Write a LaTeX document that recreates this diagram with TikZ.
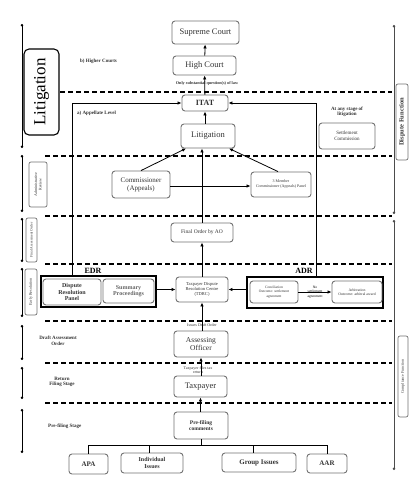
\documentclass[tikz,border=0pt]{standalone}
\usepackage{fontspec}
\setmainfont{Liberation Serif}
\usetikzlibrary{arrows.meta}
\begin{document}
\begin{tikzpicture}[x=1pt,y=-1pt,
  box/.style={draw=black!55,line width=0.9pt,rounded corners=3pt,inner sep=0pt,align=center,text=black!80},
  bigbox/.style={draw=black,line width=1.4pt,inner sep=0pt},
  flow/.style={line width=0.8pt,-{Latex[length=4pt,width=3.5pt]}},
  plainline/.style={line width=0.8pt},
  dashsep/.style={line width=1.1pt,dash pattern=on 5pt off 3pt},
  spanline/.style={line width=0.8pt,{Circle[length=2.4pt]}-{Circle[length=2.4pt]}},
  lbl/.style={inner sep=0pt,align=center,font=\bfseries\fontsize{5}{5.5}\selectfont,text=black!80},
  sidebox/.style={draw=black!55,line width=0.7pt,rounded corners=2pt,inner sep=0pt}]
\useasboundingbox[fill=white] (0,0) rectangle (410,480);

% separators
\foreach \y/\xs in {92/60,156/45,216/45,264/45,321/45,363/45,403/45}
  \draw[dashsep] (\xs,\y) -- (392,\y);

% left span lines
\coordinate (l1a) at (22,24);  \coordinate (l1b) at (22,148);
\coordinate (l2a) at (22,155); \coordinate (l2b) at (22,212);
\coordinate (l3a) at (22,218); \coordinate (l3b) at (22,262);
\coordinate (l4a) at (22,268); \coordinate (l4b) at (22,317);
\coordinate (l5a) at (22,325); \coordinate (l5b) at (22,360);
\coordinate (l6a) at (22,367); \coordinate (l6b) at (22,399);
\coordinate (l7a) at (22,409); \coordinate (l7b) at (22,453);
\foreach \i in {1,...,7} \draw[spanline] (l\i a) -- (l\i b);

% right span lines
\coordinate (r1a) at (394,25);  \coordinate (r1b) at (394,214);
\coordinate (r2a) at (394,220); \coordinate (r2b) at (394,470);
\draw[spanline,black!70] (r1a) -- (r1b);
\draw[spanline,black!70] (r2a) -- (r2b);

% side labels
\node[draw=black,line width=1.1pt,rounded corners=5pt,minimum width=35pt,minimum height=86pt,inner sep=0pt] (litlab) at (41.5,92) {};
\node[rotate=90,font=\fontsize{17}{17}\selectfont] (littxt) at (litlab) {Litigation};
\node[sidebox,minimum width=18pt,minimum height=45pt] (adrev) at (38,184.5) {};
\node[rotate=90,font=\fontsize{4}{4.5}\selectfont,align=center,text=black!80] (adrevt) at (adrev) {Administrative\\Review};
\node[sidebox,minimum width=11pt,minimum height=44pt] (fao) at (31.5,240) {};
\node[rotate=90,font=\fontsize{3.6}{4}\selectfont,text=black!80] (faot) at (fao) {Final Assessment Order};
\node[sidebox,minimum width=12pt,minimum height=46pt] (er) at (31,292) {};
\node[rotate=90,font=\fontsize{4}{4.5}\selectfont,text=black!80] (ert) at (er) {Early Resolution};
\node[sidebox,minimum width=12pt,minimum height=76pt] (dfun) at (402,122) {};
\node[rotate=90,font=\bfseries\fontsize{6.5}{7}\selectfont,text=black!80] (dfunt) at (dfun) {Dispute Function};
\node[sidebox,minimum width=10pt,minimum height=81pt] (cfun) at (403,376.5) {};
\node[rotate=90,font=\fontsize{4}{4.5}\selectfont,text=black!80] (cfunt) at (cfun) {Compliance Function};

\node[lbl,anchor=west] (hcl) at (80,61) {b) Higher Courts};
\node[lbl,anchor=west] (apl) at (77,113) {a) Appellate Level};
\node[lbl] (dao) at (58,341) {Draft Assessment\\Order};
\node[lbl] (rfs) at (62,382) {Return\\Filing Stage};
\node[lbl,anchor=west] (pfs) at (48,426) {Pre-filing Stage};

% main nodes
\node[box,minimum width=67pt,minimum height=23pt,font=\fontsize{8.5}{9}\selectfont] (sc) at (205.5,32.5) {Supreme Court};
\node[box,minimum width=63pt,minimum height=19pt,font=\fontsize{8.5}{9}\selectfont] (hc) at (204.5,65.5) {High Court};
\node[box,minimum width=46pt,minimum height=16pt,font=\bfseries\fontsize{8}{9}\selectfont] (itat) at (205,103) {ITAT};
\node[box,minimum width=54pt,minimum height=24pt,font=\fontsize{8.5}{9}\selectfont] (lit) at (208,136) {Litigation};
\node[box,minimum width=56pt,minimum height=26pt,font=\fontsize{5}{6}\selectfont] (settle) at (347,136) {Settlement\\Commission};
\node[lbl] (anys) at (347,112) {At any stage of\\litigation};
\node[lbl,font=\bfseries\fontsize{4.2}{5}\selectfont] (osq) at (207,83) {Only substantial question(s) of law};
\node[box,minimum width=58pt,minimum height=27pt,font=\fontsize{7}{8}\selectfont] (comm) at (141,184.5) {Commissioner\\(Appeals)};
\node[box,minimum width=60pt,minimum height=25pt,font=\fontsize{4}{5}\selectfont] (panel) at (281,184.5) {3 Member\\Commissioner (Appeals) Panel};
\node[box,minimum width=62pt,minimum height=19pt,font=\fontsize{5.5}{6}\selectfont] (final) at (202,232.5) {Final Order by AO};

\node[bigbox,minimum width=115pt,minimum height=31pt] (edr) at (98.5,291.5) {};
\node[font=\bfseries\fontsize{8}{8}\selectfont,inner sep=0pt] (edrl) at (93,270.5) {EDR};
\node[box,minimum width=58pt,minimum height=26pt,font=\bfseries\fontsize{6}{6.5}\selectfont] (drp) at (72,292) {Dispute\\Resolution\\Panel};
\node[box,minimum width=51pt,minimum height=24pt,font=\bfseries\fontsize{6}{6.5}\selectfont,text=black!60] (summ) at (128.5,291) {Summary\\Proceedings};
\node[box,minimum width=52pt,minimum height=25pt,font=\fontsize{4.5}{5.2}\selectfont] (tdrc) at (202,289.5) {Taxpayer Dispute\\Resolution Centre\\(TDRC)};
\node[bigbox,minimum width=136pt,minimum height=31pt] (adr) at (315,292.5) {};
\node[font=\bfseries\fontsize{8}{8}\selectfont,inner sep=0pt] (adrl) at (304,270.5) {ADR};
\node[box,minimum width=48pt,minimum height=22pt,font=\fontsize{3.6}{4.3}\selectfont] (conc) at (274,292) {Conciliation\\Outcome: settlement\\agreement};
\node[box,minimum width=50pt,minimum height=22pt,font=\fontsize{3.8}{4.5}\selectfont] (arb) at (357,292) {Arbitration\\Outcome: arbitral award};
\node[inner sep=0pt,align=center,font=\fontsize{3.6}{4.6}\selectfont] (nosa) at (315,292) {No\\settlement\\agreement};

\node[lbl,font=\fontsize{4}{4.5}\selectfont] (ido) at (202,325) {Issues Draft Order};
\node[box,minimum width=54pt,minimum height=26pt,font=\fontsize{7.5}{8.5}\selectfont] (ao) at (201,344) {Assessing\\Officer};
\node[lbl,font=\fontsize{4}{4.5}\selectfont] (tft) at (198,370) {Taxpayer files tax\\return};
\node[box,minimum width=53pt,minimum height=21pt,font=\fontsize{8.5}{9}\selectfont] (tp) at (200.5,386.5) {Taxpayer};
\node[box,minimum width=54pt,minimum height=27pt,font=\bfseries\fontsize{5.5}{6.5}\selectfont] (pre) at (201,425.5) {Pre-filing\\comments};
\node[box,minimum width=39pt,minimum height=20pt,font=\bfseries\fontsize{7}{8}\selectfont] (apa) at (88.5,464) {APA};
\node[box,minimum width=62pt,minimum height=20pt,font=\bfseries\fontsize{6}{6.5}\selectfont] (ind) at (152,463) {Individual\\Issues};
\node[box,minimum width=74pt,minimum height=19pt,font=\bfseries\fontsize{7}{8}\selectfont] (grp) at (259,462.5) {Group Issues};
\node[box,minimum width=40pt,minimum height=19pt,font=\bfseries\fontsize{7}{8}\selectfont] (aar) at (327,463.5) {AAR};

% connectors
\draw[flow] (hc) -- (sc);
\draw[flow] (itat) -- (hc);
\draw[flow] (lit.north -| itat) -- (itat);
\draw[flow] (comm.north) -- ([xshift=-22pt]lit.south);
\draw[flow] ([xshift=-3pt]panel.north) -- ([xshift=21pt]lit.south);
\draw[flow] ([yshift=-1.5pt]comm.east) -- ([yshift=-1.5pt]panel.west);
\draw[flow] (final.north) -- (final.north |- lit.south);
\draw[flow] (tdrc.north -| final) -- (final.south);
\draw[flow] (ao.north -| tdrc) -- (tdrc.south);
\draw[flow] (tp.north -| ao) -- (ao.south);
\draw[flow] (pre.north -| tp) -- (tp.south);
\draw[flow] (edr.east |- tdrc) -- (tdrc.west);
\draw[flow] (adr.west |- tdrc) -- (tdrc.east);
\draw[flow] (conc.east) -- (arb.west);
\draw[flow] (drp.north |- edr.north) -- (drp.north |- itat) -- (itat.west);
\coordinate (a1) at (316,277);
\draw[flow] (a1) -- (a1 |- itat) -- (itat.east);
% bus
\coordinate (bus) at (201,445);
\draw[plainline] (pre.south) -- (bus);
\draw[plainline] (apa.north) -- (apa.north |- bus) -- (aar.north |- bus) -- (aar.north);
\draw[plainline] ([xshift=-3pt]ind.north) -- ([xshift=-3pt]ind.north |- bus);
\draw[plainline] ([xshift=-6pt]grp.north) -- ([xshift=-6pt]grp.north |- bus);
\end{tikzpicture}
\end{document}
